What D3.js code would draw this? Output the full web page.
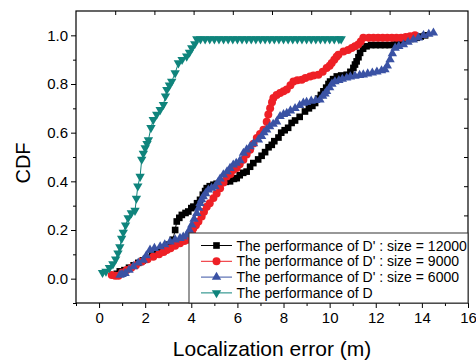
<!DOCTYPE html>
<html>
<head>
<meta charset="utf-8">
<script src="https://cdn.jsdelivr.net/npm/d3@7"></script>
<style>
  html, body { margin: 0; padding: 0; background: #fff; }
  svg { display: block; font-family: "Liberation Sans", Arial, sans-serif; }
</style>
</head>
<body>
<div id="chart"></div>
<script>
// CDF curves, [error (m), CDF]
const size12000 = [
  [0.77,0.02],[0.9,0.03],[1.1,0.035],[1.3,0.045],[1.5,0.055],[1.7,0.065],[1.9,0.075],[2.1,0.085],
  [2.3,0.095],[2.5,0.105],[2.7,0.115],[2.9,0.125],[3.05,0.14],[3.2,0.16],[3.3,0.2],[3.37,0.235],
  [3.48,0.25],[3.59,0.262],[3.75,0.27],[3.87,0.276],[4.0,0.29],[4.09,0.296],[4.25,0.31],[4.38,0.324],
  [4.5,0.345],[4.6,0.36],[4.67,0.372],[4.8,0.38],[4.96,0.386],[5.1,0.39],[5.3,0.395],[5.5,0.398],
  [5.68,0.4],[5.85,0.41],[5.97,0.413],[6.1,0.425],[6.25,0.435],[6.4,0.44],[6.55,0.46],[6.69,0.475],
  [6.9,0.49],[7.05,0.505],[7.2,0.52],[7.35,0.54],[7.49,0.55],[7.6,0.565],[7.78,0.58],[7.9,0.6],
  [8.05,0.61],[8.2,0.62],[8.35,0.64],[8.5,0.65],[8.7,0.665],[8.93,0.687],[9.1,0.7],[9.25,0.71],
  [9.37,0.722],[9.5,0.74],[9.62,0.755],[9.73,0.77],[9.85,0.785],[9.95,0.8],[10.02,0.81],[10.15,0.82],
  [10.31,0.831],[10.5,0.835],[10.74,0.838],[10.9,0.85],[11.03,0.866],[11.1,0.88],[11.17,0.893],
  [11.25,0.91],[11.32,0.928],[11.45,0.945],[11.6,0.955],[11.8,0.96],[12.0,0.96],[12.2,0.96],
  [12.4,0.96],[12.6,0.96],[12.8,0.962],[12.95,0.97],[13.1,0.975],[13.3,0.98],[13.5,0.985],
  [13.78,0.99],[13.95,0.995],[14.14,1.0]
];
const size9000 = [
  [0.55,0.015],[0.7,0.012],[0.84,0.012],[1.0,0.025],[1.2,0.036],[1.4,0.045],[1.6,0.055],[1.85,0.07],
  [2.1,0.08],[2.35,0.09],[2.6,0.1],[2.8,0.11],[2.94,0.118],[3.1,0.125],[3.3,0.135],[3.51,0.146],
  [3.7,0.155],[3.85,0.16],[3.95,0.166],[4.03,0.19],[4.09,0.207],[4.2,0.22],[4.31,0.235],[4.45,0.255],
  [4.55,0.275],[4.67,0.296],[4.8,0.31],[4.96,0.331],[5.1,0.35],[5.25,0.372],[5.4,0.395],[5.54,0.42],
  [5.7,0.43],[5.82,0.447],[5.97,0.455],[6.1,0.47],[6.26,0.489],[6.4,0.51],[6.55,0.53],[6.7,0.555],
  [6.84,0.578],[6.98,0.595],[7.13,0.612],[7.27,0.645],[7.34,0.675],[7.42,0.7],[7.5,0.725],[7.56,0.742],
  [7.7,0.755],[7.85,0.763],[8.0,0.77],[8.14,0.777],[8.3,0.795],[8.43,0.81],[8.6,0.815],[8.79,0.817],
  [8.95,0.825],[9.15,0.831],[9.3,0.835],[9.51,0.838],[9.7,0.85],[9.87,0.866],[10.0,0.875],[10.09,0.886],
  [10.2,0.9],[10.3,0.912],[10.38,0.92],[10.6,0.934],[10.8,0.94],[10.96,0.948],[11.1,0.955],[11.24,0.962],
  [11.35,0.975],[11.46,0.99],[11.7,0.99],[11.9,0.99],[12.1,0.99],[12.3,0.99],[12.5,0.99],[12.7,0.99],
  [12.9,0.99],[13.1,0.99],[13.3,0.993],[13.49,0.996],[13.7,1.0]
];
const size6000 = [
  [0.91,0.015],[1.0,0.018],[1.13,0.022],[1.3,0.035],[1.49,0.05],[1.7,0.065],[1.92,0.077],[2.05,0.095],
  [2.21,0.118],[2.4,0.125],[2.65,0.132],[2.85,0.14],[3.08,0.152],[3.3,0.16],[3.51,0.166],[3.65,0.172],
  [3.8,0.18],[3.92,0.2],[4.02,0.221],[4.12,0.245],[4.24,0.269],[4.32,0.29],[4.38,0.31],[4.45,0.325],
  [4.52,0.337],[4.62,0.35],[4.74,0.365],[4.88,0.372],[5.03,0.379],[5.15,0.395],[5.25,0.41],[5.39,0.427],
  [5.55,0.44],[5.68,0.454],[5.82,0.468],[5.95,0.475],[6.11,0.485],[6.26,0.516],[6.4,0.53],[6.55,0.543],
  [6.7,0.555],[6.91,0.571],[7.05,0.585],[7.15,0.6],[7.27,0.612],[7.4,0.625],[7.55,0.635],[7.7,0.645],
  [7.85,0.667],[8.0,0.675],[8.14,0.68],[8.3,0.69],[8.5,0.7],[8.7,0.712],[8.86,0.722],[9.0,0.725],
  [9.2,0.73],[9.4,0.733],[9.58,0.735],[9.7,0.75],[9.8,0.76],[9.87,0.77],[10.0,0.785],[10.1,0.8],
  [10.23,0.81],[10.4,0.815],[10.55,0.82],[10.74,0.825],[10.9,0.83],[11.1,0.833],[11.3,0.836],
  [11.46,0.838],[11.65,0.842],[11.85,0.846],[12.05,0.85],[12.25,0.855],[12.4,0.859],[12.5,0.875],
  [12.62,0.9],[12.72,0.925],[12.84,0.948],[13.0,0.955],[13.2,0.962],[13.4,0.972],[13.63,0.982],
  [13.85,0.99],[14.07,1.0],[14.3,1.005],[14.5,1.01]
];
const sizeD = [
  [0.15,0.025],[0.3,0.03],[0.45,0.045],[0.6,0.06],[0.72,0.08],[0.82,0.105],[0.9,0.13],[0.98,0.165],
  [1.05,0.19],[1.15,0.22],[1.26,0.25],[1.4,0.27],[1.56,0.28],[1.62,0.33],[1.68,0.38],[1.78,0.42],
  [1.85,0.49],[1.92,0.515],[2.0,0.537],[2.08,0.555],[2.14,0.57],[2.25,0.62],[2.35,0.653],[2.5,0.675],
  [2.65,0.694],[2.79,0.715],[2.88,0.75],[2.94,0.777],[3.05,0.795],[3.15,0.81],[3.3,0.845],[3.44,0.886],
  [3.6,0.9],[3.8,0.914],[3.92,0.93],[4.02,0.948],[4.15,0.965],[4.24,0.985],[4.4,0.985],[4.6,0.985],
  [4.8,0.985],[5.0,0.985],[5.2,0.985],[5.4,0.985],[5.6,0.985],[5.8,0.985],[6.0,0.985],[6.2,0.985],
  [6.4,0.985],[6.6,0.985],[6.8,0.985],[7.0,0.985],[7.2,0.985],[7.4,0.985],[7.6,0.985],[7.8,0.985],
  [8.0,0.985],[8.2,0.985],[8.4,0.985],[8.6,0.985],[8.8,0.985],[9.0,0.985],[9.2,0.985],[9.4,0.985],
  [9.6,0.985],[9.8,0.985],[10.0,0.985],[10.2,0.985],[10.4,0.985],[10.5,0.985]
];

const seriesLabels = [
  "The performance of D' : size = 12000",
  "The performance of D' : size = 9000",
  "The performance of D' : size = 6000",
  "The performance of D"
];
const xTicks = [0, 2, 4, 6, 8, 10, 12, 14, 16];
const yTicks = [0, 0.2, 0.4, 0.6, 0.8, 1.0];

const W = 476, H = 362;
const mLeft = 76, mRight = 468, mTop = 11, mBottom = 303;

const series = [
  { data: size12000, color: '#000000', symbol: d3.symbolSquare, size: 44, rot: 0 },
  { data: size9000, color: '#ee2026', symbol: d3.symbolCircle, size: 50, rot: 0 },
  { data: size6000, color: '#3a52a4', symbol: d3.symbolTriangle, size: 38, rot: 0 },
  { data: sizeD, color: '#0f847c', symbol: d3.symbolTriangle, size: 38, rot: 180 },
];

const x = d3.scaleLinear().domain([-1, 16]).range([mLeft, mRight]);
const y = d3.scaleLinear().domain([-0.1, 1.1]).range([mBottom, mTop]);

const svg = d3.select('#chart').append('svg')
  .attr('width', W).attr('height', H);

const line = d3.line().x(d => x(d[0])).y(d => y(d[1]));

const plot = svg.append('g');
series.forEach(s => {
  plot.append('path')
    .datum(s.data)
    .attr('fill', 'none')
    .attr('stroke', s.color)
    .attr('stroke-width', 1)
    .attr('d', line);
  plot.append('g')
    .selectAll('path')
    .data(s.data)
    .join('path')
    .attr('transform', d => `translate(${x(d[0])},${y(d[1])}) rotate(${s.rot})`)
    .attr('d', d3.symbol(s.symbol, s.size))
    .attr('fill', s.color);
});

// frame
svg.append('rect')
  .attr('x', mLeft).attr('y', mTop)
  .attr('width', mRight - mLeft).attr('height', mBottom - mTop)
  .attr('fill', 'none').attr('stroke', '#000').attr('stroke-width', 1.2);

function styleAxis(g) {
  g.select('.domain').remove();
  g.selectAll('.tick line').attr('stroke', '#000').attr('stroke-width', 1);
  g.selectAll('.tick text').attr('fill', '#000').attr('font-size', 15);
}

// bottom axis
svg.append('g')
  .attr('transform', `translate(0,${mBottom})`)
  .call(d3.axisBottom(x).tickValues(xTicks).tickSize(5).tickPadding(4).tickFormat(d3.format('d')))
  .call(styleAxis);
svg.append('g')
  .attr('transform', `translate(0,${mBottom})`)
  .call(d3.axisBottom(x).tickValues(d3.range(-1, 16, 2)).tickSize(3).tickFormat(''))
  .call(styleAxis);

// left axis
svg.append('g')
  .attr('transform', `translate(${mLeft},0)`)
  .call(d3.axisLeft(y).tickValues(yTicks).tickSize(5).tickPadding(3).tickFormat(d3.format('.1f')))
  .call(styleAxis);
svg.append('g')
  .attr('transform', `translate(${mLeft},0)`)
  .call(d3.axisLeft(y).tickValues([-0.1, 0.1, 0.3, 0.5, 0.7, 0.9]).tickSize(3).tickFormat(''))
  .call(styleAxis);

// top and right: ten equal divisions, ticks pointing in
svg.append('g')
  .attr('transform', `translate(0,${mTop})`)
  .call(d3.axisTop(x).tickValues(d3.range(1, 10).map(i => -1 + i * 1.7)).tickSize(-4).tickFormat(''))
  .call(styleAxis);
svg.append('g')
  .attr('transform', `translate(${mRight},0)`)
  .call(d3.axisRight(y).tickValues(d3.range(1, 10).map(i => -0.1 + i * 0.12)).tickSize(-4).tickFormat(''))
  .call(styleAxis);

// axis titles
svg.append('text')
  .attr('x', 272).attr('y', 356)
  .attr('text-anchor', 'middle')
  .attr('font-size', 21)
  .text('Localization error (m)');
svg.append('text')
  .attr('transform', `translate(30,163) rotate(-90)`)
  .attr('text-anchor', 'middle')
  .attr('font-size', 20)
  .text('CDF');

// legend
const legend = svg.append('g');
legend.append('rect')
  .attr('x', 189).attr('y', 233)
  .attr('width', mRight - 189).attr('height', mBottom - 233)
  .attr('fill', '#fff').attr('stroke', '#333').attr('stroke-width', 1);
series.forEach((s, i) => {
  const cy = 245.5 + i * 15.8;
  legend.append('line')
    .attr('x1', 201).attr('x2', 232).attr('y1', cy).attr('y2', cy)
    .attr('stroke', s.color).attr('stroke-width', 1);
  legend.append('path')
    .attr('transform', `translate(216.5,${cy}) rotate(${s.rot})`)
    .attr('d', d3.symbol(s.symbol, s.size))
    .attr('fill', s.color);
  legend.append('text')
    .attr('x', 236.5).attr('y', cy + 5)
    .attr('font-size', 14)
    .text(seriesLabels[i]);
});
</script>
</body>
</html>
